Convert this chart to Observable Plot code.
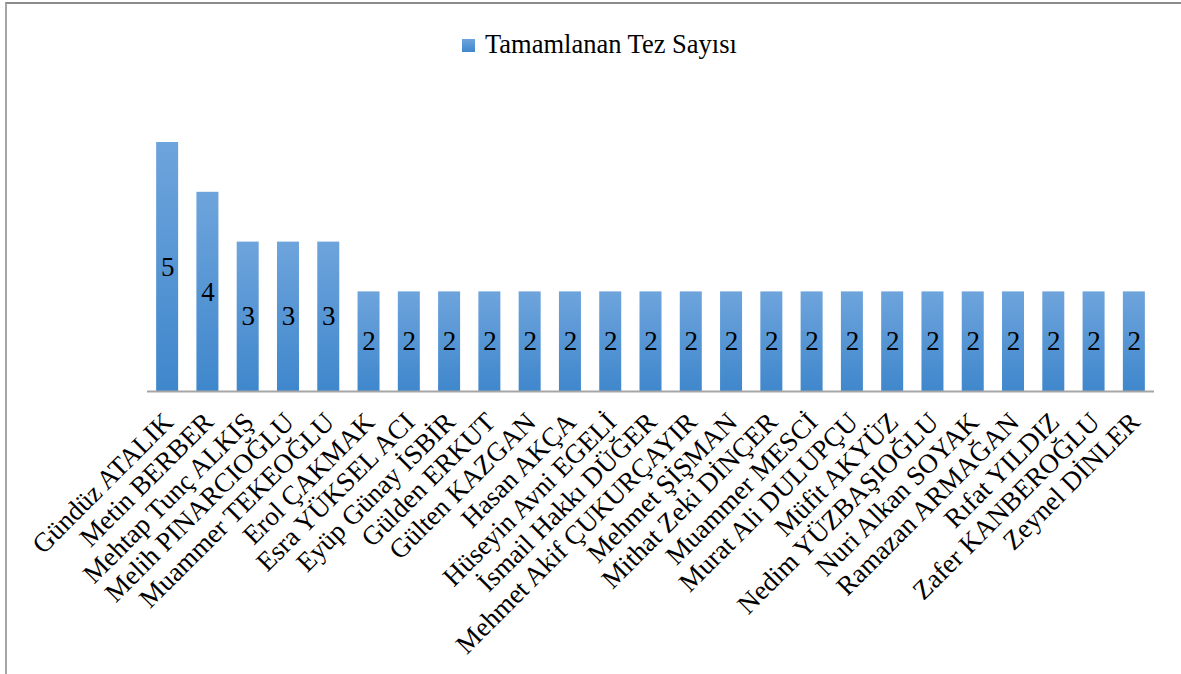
<!DOCTYPE html>
<html>
<head>
<meta charset="utf-8">
<script src="https://cdn.jsdelivr.net/npm/d3@7"></script>
<script src="https://cdn.jsdelivr.net/npm/@observablehq/plot@0.6"></script>
<style>
  html, body { margin: 0; padding: 0; background: #fff; overflow: hidden; }
  body { width: 1181px; height: 674px; position: relative; font-family: "Liberation Serif", "Times New Roman", serif; }
  #frame { position: absolute; left: 5px; top: 2px; width: 1300px; height: 800px; border-top: 2px solid #8c8c8c; border-left: 2px solid #a6a6a6; box-sizing: border-box; pointer-events: none; }
  #legend { position: absolute; left: 462px; top: 24px; height: 40px; display: flex; align-items: center; font-family: "Liberation Serif", serif; font-size: 26.5px; color: #000; white-space: nowrap; }
  #legend .sw { width: 13px; height: 13px; background: linear-gradient(#6ea4dc, #3f87cc); margin-right: 10px; margin-top: 3px; }
  #chart { position: absolute; left: 0; top: 70px; }
</style>
</head>
<body>
<div id="frame"></div>
<div id="legend"><span class="sw"></span><span>Tamamlanan Tez Sayısı</span></div>
<div id="chart"></div>
<script>
const seriesName = "Tamamlanan Tez Sayısı";
const names = [
  "Gündüz ATALIK", "Metin BERBER", "Mehtap Tunç ALKIŞ", "Melih PINARCIOĞLU",
  "Muammer TEKEOĞLU", "Erol ÇAKMAK", "Esra YÜKSEL ACI", "Eyüp Günay İSBİR",
  "Gülden ERKUT", "Gülten KAZGAN", "Hasan AKÇA", "Hüseyin Avni EGELİ",
  "İsmail Hakkı DÜĞER", "Mehmet Akif ÇUKURÇAYIR", "Mehmet ŞİŞMAN", "Mithat Zeki DİNÇER",
  "Muammer MESCİ", "Murat Ali DULUPÇU", "Müfit AKYÜZ", "Nedim YÜZBAŞIOĞLU",
  "Nuri Alkan SOYAK", "Ramazan ARMAĞAN", "Rıfat YILDIZ", "Zafer KANBEROĞLU", "Zeynel DİNLER"
];
const values = [5, 4, 3, 3, 3, 2, 2, 2, 2, 2, 2, 2, 2, 2, 2, 2, 2, 2, 2, 2, 2, 2, 2, 2, 2];

const data = names.map((n, i) => ({name: n, value: values[i]}));
const font = "Liberation Serif";

const plot = Plot.plot({
  width: 1181,
  height: 604,
  marginLeft: 147,
  marginRight: 27,
  marginTop: 72,
  marginBottom: 283,
  style: {fontFamily: font, background: "transparent", overflow: "visible"},
  x: {domain: names, paddingInner: 0.454, paddingOuter: 0.227, round: false, axis: null},
  y: {domain: [0, 5], axis: null},
  marks: [
    Plot.barY(data, {x: "name", y: "value", fill: "url(#barGrad)", style: {filter: "drop-shadow(1px 0px 2px rgba(0,0,0,0.35))"}}),
    Plot.ruleY([0], {stroke: "#a6a6a6", strokeWidth: 2}),
    Plot.text(data, {x: "name", y: d => d.value / 2, text: d => String(d.value), fontSize: 27, fill: "#000", fontFamily: font}),
    Plot.text(names, {x: d => d, frameAnchor: "bottom", text: d => d, rotate: -45, textAnchor: "end", lineAnchor: "middle", dx: 1, dy: 26, fontSize: 27, fill: "#000", fontFamily: font})
  ]
});

const svg = d3.select(plot);
const defs = svg.insert("defs", ":first-child");
const g = defs.append("linearGradient").attr("id", "barGrad").attr("x1", 0).attr("y1", 0).attr("x2", 0).attr("y2", 1);
g.append("stop").attr("offset", "0%").attr("stop-color", "#6ea4dc");
g.append("stop").attr("offset", "100%").attr("stop-color", "#3f87cc");

document.getElementById("chart").appendChild(plot);
</script>
</body>
</html>
